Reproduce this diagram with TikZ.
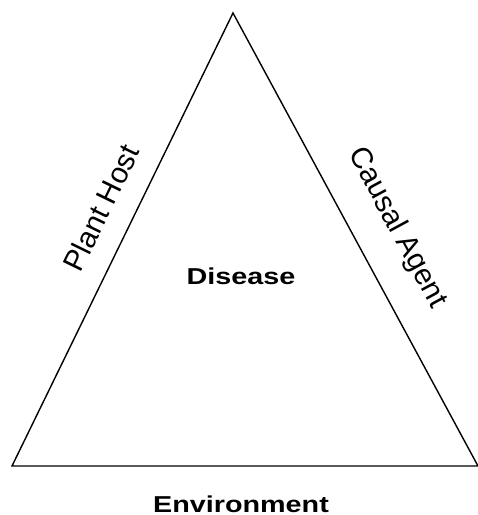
\documentclass[tikz,border=0pt]{standalone}
\usepackage{fontspec}
\setmainfont{Liberation Sans}
\newcommand{\wide}[1]{\scalebox{1.25}[1]{#1}}
\begin{document}
\begin{tikzpicture}[x=1pt,y=-1pt,
  lbl/.style={inner sep=0pt, font=\fontsize{29.5}{32}\selectfont},
  blbl/.style={inner sep=0pt, font=\fontsize{23}{26}\selectfont\bfseries},
  side/.style={line width=1.4pt, line join=miter}]
\useasboundingbox (0,0) rectangle (478,515);
\coordinate (top) at (233,13);
\coordinate (bl) at (12,466);
\coordinate (br) at (478,466);
\draw[side] (br) -- (bl) -- (top) -- (br);
\node[blbl] (disease) at (241,276) {\wide{Disease}};
\node[blbl] (env) at (241,504) {\wide{Environment}};
\node[lbl, rotate=64] (host) at (101,208) {Plant Host};
\node[lbl, rotate=-61.6] (agent) at (397,228) {Causal Agent};
\end{tikzpicture}
\end{document}
